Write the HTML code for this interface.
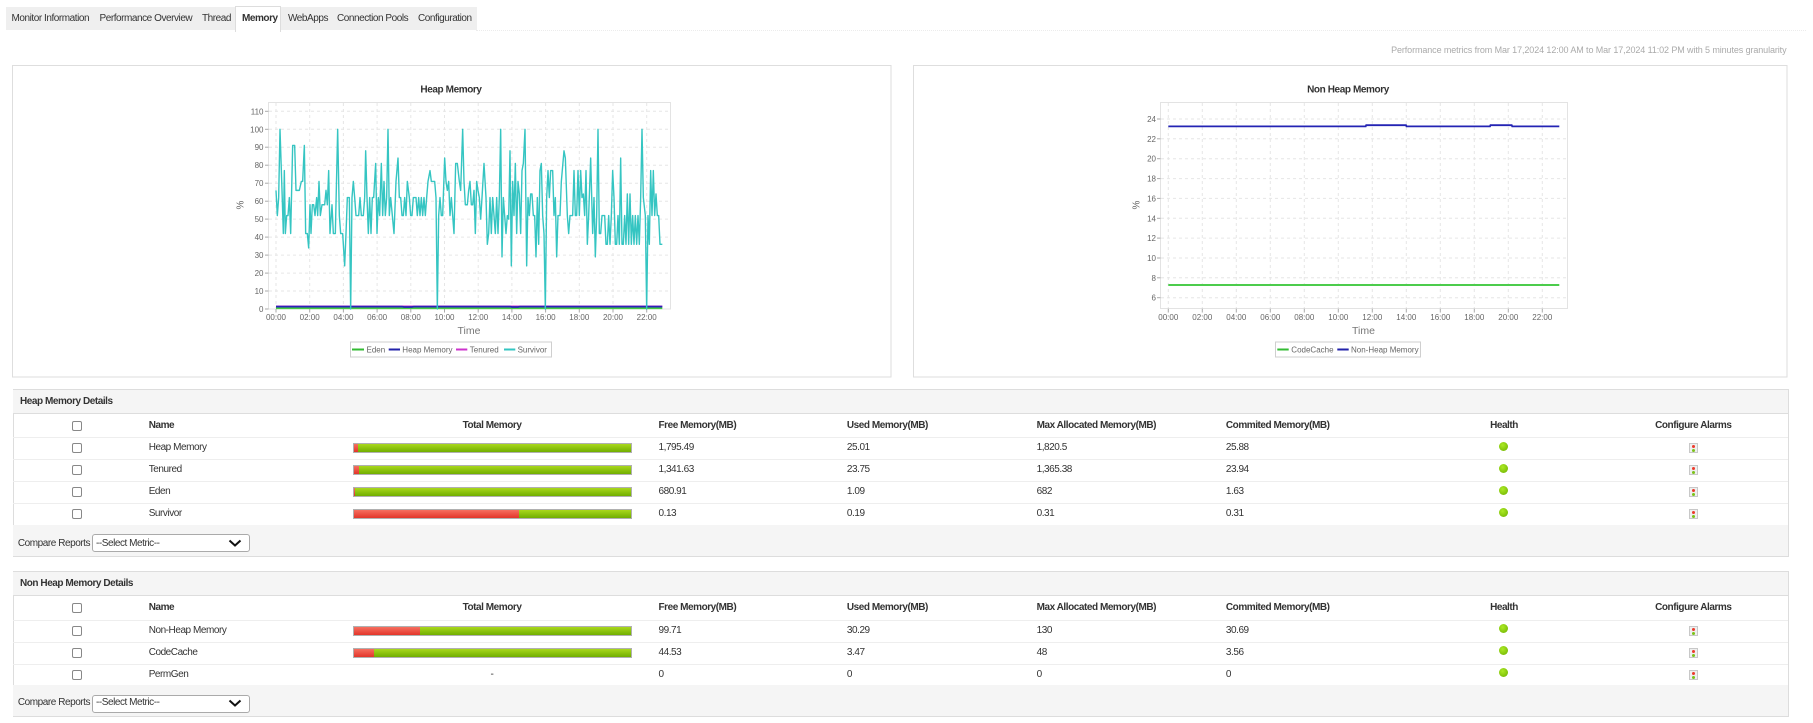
<!DOCTYPE html>
<html>
<head>
<meta charset="utf-8">
<style>
*{box-sizing:border-box;margin:0;padding:0}
html,body{width:1813px;height:723px;overflow:hidden;background:#fff;font-family:"Liberation Sans",Arial,sans-serif;position:relative}
.a{position:absolute}
.t{position:absolute;font-size:10px;letter-spacing:-0.45px;color:#333;line-height:12px;white-space:nowrap}
.b{font-weight:bold}
.c{transform:translateX(-50%)}
.cb{position:absolute;width:10px;height:10px;border:1px solid #888;border-radius:2px;background:#fff}
.bar{position:absolute;left:353px;width:279px;height:10px;border:1px solid #b0b0b0;background:linear-gradient(#a9d81c,#70ae00)}
.bar .r{height:100%;background:linear-gradient(#f56f60,#e3352a)}
.dot{position:absolute;width:9px;height:9px;border-radius:50%;background:radial-gradient(circle at 40% 35%,#acea24,#6cb000)}
.al{position:absolute;width:9px;height:10px;border:1px solid #c8c8c8;background:#efefef}
.al:before{content:"";position:absolute;left:2px;top:1px;width:3px;height:3px;border-radius:50%;background:#ec3b2c}
.al:after{content:"";position:absolute;left:2px;top:5px;width:3px;height:3px;border-radius:50%;background:#7cc21a}
.sec{position:absolute;left:12.5px;width:1776px;border:1px solid #ddd;background:#fff}
.band{position:absolute;left:13px;width:1775px;background:#f5f5f5}
.ln{position:absolute;left:13px;width:1775px;height:1px;background:#eeeeee}
.sel{position:absolute;left:91.5px;width:158px;height:18px;border:1px solid #aaa;border-radius:3px;background:#fff}
</style>
</head>
<body>

<!-- Tabs -->
<div class="a" style="left:6px;top:7px;width:470.5px;height:23px;background:#efefef"></div>
<div class="a" style="left:476px;top:30px;width:1330px;height:0;border-top:1px dotted #ececec"></div>
<div class="a" style="left:235.4px;top:6px;width:46px;height:26px;background:#fff;border:1px solid #ddd;border-bottom:none"></div>
<div class="t" style="left:11.5px;top:13px">Monitor Information</div>
<div class="t" style="left:99.5px;top:13px">Performance Overview</div>
<div class="t" style="left:202px;top:13px">Thread</div>
<div class="t b" style="left:242px;top:13px">Memory</div>
<div class="t" style="left:288px;top:13px">WebApps</div>
<div class="t" style="left:337px;top:13px">Connection Pools</div>
<div class="t" style="left:418px;top:13px">Configuration</div>

<div class="t" style="right:26.5px;top:43.5px;font-size:9px;letter-spacing:-0.1px;color:#aaa">Performance metrics from Mar 17,2024 12:00 AM to Mar 17,2024 11:02 PM with 5 minutes granularity</div>

<!-- Charts -->
<svg class="a" style="left:0;top:0" width="1813" height="390" viewBox="0 0 1813 390" font-family="Liberation Sans, Arial, sans-serif">
  <rect x="12.5" y="65.5" width="878.5" height="311.5" fill="#fff" stroke="#dedede"/>
  <rect x="913.5" y="65.5" width="873.5" height="311.5" fill="#fff" stroke="#dedede"/>

  <!-- ===== Heap chart ===== -->
  <text x="451" y="92.5" text-anchor="middle" font-size="10" font-weight="bold" fill="#333" letter-spacing="-0.4">Heap Memory</text>
  <rect x="268.5" y="102.5" width="402" height="206.5" fill="#fff" stroke="#e3e3e3"/>
  <g stroke="#e6e6e6" stroke-dasharray="3,3" stroke-width="1">
    <line x1="269" x2="670" y1="291" y2="291"/>
    <line x1="269" x2="670" y1="273.1" y2="273.1"/>
    <line x1="269" x2="670" y1="255.1" y2="255.1"/>
    <line x1="269" x2="670" y1="237.1" y2="237.1"/>
    <line x1="269" x2="670" y1="219.1" y2="219.1"/>
    <line x1="269" x2="670" y1="201.2" y2="201.2"/>
    <line x1="269" x2="670" y1="183.2" y2="183.2"/>
    <line x1="269" x2="670" y1="165.2" y2="165.2"/>
    <line x1="269" x2="670" y1="147.2" y2="147.2"/>
    <line x1="269" x2="670" y1="129.3" y2="129.3"/>
    <line x1="269" x2="670" y1="111.3" y2="111.3"/>
    <line y1="103" y2="308" x1="276" x2="276"/>
    <line y1="103" y2="308" x1="309.7" x2="309.7"/>
    <line y1="103" y2="308" x1="343.4" x2="343.4"/>
    <line y1="103" y2="308" x1="377.1" x2="377.1"/>
    <line y1="103" y2="308" x1="410.8" x2="410.8"/>
    <line y1="103" y2="308" x1="444.5" x2="444.5"/>
    <line y1="103" y2="308" x1="478.2" x2="478.2"/>
    <line y1="103" y2="308" x1="511.9" x2="511.9"/>
    <line y1="103" y2="308" x1="545.6" x2="545.6"/>
    <line y1="103" y2="308" x1="579.3" x2="579.3"/>
    <line y1="103" y2="308" x1="613" x2="613"/>
    <line y1="103" y2="308" x1="646.7" x2="646.7"/>
  </g>
  <g stroke="#aaa" stroke-width="1">
    <line x1="265" x2="268.5" y1="309" y2="309"/><line x1="265" x2="268.5" y1="291" y2="291"/>
    <line x1="265" x2="268.5" y1="273.1" y2="273.1"/><line x1="265" x2="268.5" y1="255.1" y2="255.1"/>
    <line x1="265" x2="268.5" y1="237.1" y2="237.1"/><line x1="265" x2="268.5" y1="219.1" y2="219.1"/>
    <line x1="265" x2="268.5" y1="201.2" y2="201.2"/><line x1="265" x2="268.5" y1="183.2" y2="183.2"/>
    <line x1="265" x2="268.5" y1="165.2" y2="165.2"/><line x1="265" x2="268.5" y1="147.2" y2="147.2"/>
    <line x1="265" x2="268.5" y1="129.3" y2="129.3"/><line x1="265" x2="268.5" y1="111.3" y2="111.3"/>
    <line y1="309" y2="312.5" x1="276" x2="276"/><line y1="309" y2="312.5" x1="309.7" x2="309.7"/>
    <line y1="309" y2="312.5" x1="343.4" x2="343.4"/><line y1="309" y2="312.5" x1="377.1" x2="377.1"/>
    <line y1="309" y2="312.5" x1="410.8" x2="410.8"/><line y1="309" y2="312.5" x1="444.5" x2="444.5"/>
    <line y1="309" y2="312.5" x1="478.2" x2="478.2"/><line y1="309" y2="312.5" x1="511.9" x2="511.9"/>
    <line y1="309" y2="312.5" x1="545.6" x2="545.6"/><line y1="309" y2="312.5" x1="579.3" x2="579.3"/>
    <line y1="309" y2="312.5" x1="613" x2="613"/><line y1="309" y2="312.5" x1="646.7" x2="646.7"/>
  </g>
  <g font-size="8" fill="#666" text-anchor="end">
    <text x="263.5" y="312">0</text><text x="263.5" y="294">10</text><text x="263.5" y="276.1">20</text>
    <text x="263.5" y="258.1">30</text><text x="263.5" y="240.1">40</text><text x="263.5" y="222.1">50</text>
    <text x="263.5" y="204.2">60</text><text x="263.5" y="186.2">70</text><text x="263.5" y="168.2">80</text>
    <text x="263.5" y="150.2">90</text><text x="263.5" y="132.3">100</text><text x="263.5" y="114.3">110</text>
  </g>
  <g font-size="8" fill="#666" text-anchor="middle">
    <text x="276" y="320">00:00</text><text x="309.7" y="320">02:00</text><text x="343.4" y="320">04:00</text>
    <text x="377.1" y="320">06:00</text><text x="410.8" y="320">08:00</text><text x="444.5" y="320">10:00</text>
    <text x="478.2" y="320">12:00</text><text x="511.9" y="320">14:00</text><text x="545.6" y="320">16:00</text>
    <text x="579.3" y="320">18:00</text><text x="613" y="320">20:00</text><text x="646.7" y="320">22:00</text>
  </g>
  <text x="469" y="334" text-anchor="middle" font-size="10.5" fill="#777">Time</text>
  <text transform="translate(243.5,205) rotate(-90)" text-anchor="middle" font-size="10" fill="#666">%</text>

  <line x1="276" x2="662.3" y1="308.2" y2="308.2" stroke="#44cc44" stroke-width="1.8"/>
  <line x1="276" x2="662.3" y1="306.3" y2="306.3" stroke="#cc33cc" stroke-width="1.6"/>
  <polyline fill="none" stroke="#2a22b8" stroke-width="1.7" points="276,306.6 402,306.6 404,307 412,307 414,306.6 510,306.6 512,307 518,307 520,306.6 662.3,306.6"/>
  <polyline fill="none" stroke="#35c5c2" stroke-width="1.4" stroke-linejoin="round" vector-effect="non-scaling-stroke" transform="translate(200,309) scale(0.333333,-1.7973)" points="228,66 232,52 236,62 240,100 246,66 250,42 253,77 256,42 260,52 264,52 268,62 272,42 278,91 284,91 288,66 298,66 304,71 308,71 313,91 317,42 322,42 326,34 330,58 333,42 337,58 341,58 345,52 350,62 353,52 357,71 361,52 366,58 374,58 378,66 382,58 386,77 390,42 396,58 400,42 406,42 413,100 418,52 422,42 428,42 434,24 438,42 442,62 448,62 452,0 456,62 460,71 464,62 468,52 476,52 480,62 484,52 490,52 494,62 497,88 501,62 505,42 509,62 513,42 517,62 521,62 527,81 531,42 535,62 539,52 544,81 548,52 552,71 556,52 560,62 564,100 568,52 572,62 577,52 582,42 588,71 594,84 598,62 602,62 606,52 610,52 614,62 618,52 622,71 628,62 632,52 636,52 640,62 648,62 652,52 656,62 660,52 664,62 668,52 672,62 676,52 680,62 684,71 690,77 694,71 704,71 708,62 712,0 716,52 720,62 724,52 728,52 734,84 738,71 742,66 746,71 750,52 754,62 758,52 762,42 767,81 772,81 778,71 782,66 788,100 792,71 796,58 802,58 806,66 810,71 814,58 818,58 822,66 826,42 830,71 834,66 838,62 842,50 846,62 852,81 858,62 862,36 866,42 870,62 874,42 878,62 882,52 886,42 890,62 894,42 898,62 902,100 906,29 910,62 914,52 918,42 922,52 926,50 930,88 934,24 938,71 942,52 946,81 950,42 954,71 958,64 962,42 966,77 970,81 975,100 980,24 984,62 988,52 992,64 996,64 1000,52 1004,52 1008,29 1012,62 1016,36 1020,77 1024,81 1028,52 1032,42 1036,0 1040,62 1044,77 1048,62 1052,77 1058,77 1062,52 1066,62 1070,29 1074,52 1080,52 1084,71 1092,88 1096,84 1102,52 1106,42 1110,52 1118,52 1122,77 1126,52 1130,52 1134,77 1138,52 1142,77 1146,62 1150,64 1154,52 1158,77 1162,36 1166,52 1172,84 1178,42 1182,62 1186,29 1190,52 1194,100 1198,42 1202,42 1206,52 1214,52 1218,36 1222,36 1226,52 1230,36 1234,52 1238,77 1242,62 1246,36 1250,36 1254,52 1258,36 1262,84 1266,36 1270,36 1274,52 1278,36 1282,64 1286,36 1290,64 1294,36 1298,52 1302,36 1306,52 1310,36 1314,52 1318,36 1322,62 1326,100 1330,62 1336,52 1340,0 1344,52 1348,36 1352,77 1356,52 1360,77 1364,52 1368,64 1372,52 1376,52 1380,36 1387,36"/>

  <rect x="350.5" y="342" width="201" height="15" fill="#fff" stroke="#cfcfcf"/>
  <g stroke-width="2">
    <line x1="352" x2="364" y1="349.5" y2="349.5" stroke="#33bb33"/>
    <line x1="388.7" x2="400" y1="349.5" y2="349.5" stroke="#2222aa"/>
    <line x1="456" x2="467.3" y1="349.5" y2="349.5" stroke="#cc33cc"/>
    <line x1="504" x2="515.3" y1="349.5" y2="349.5" stroke="#33c5c2"/>
  </g>
  <g font-size="8" fill="#666">
    <text x="366.5" y="352.5">Eden</text>
    <text x="402.3" y="352.5">Heap Memory</text>
    <text x="469.8" y="352.5">Tenured</text>
    <text x="517.6" y="352.5">Survivor</text>
  </g>

  <!-- ===== Non heap chart ===== -->
  <text x="1348" y="92.5" text-anchor="middle" font-size="10" font-weight="bold" fill="#333" letter-spacing="-0.4">Non Heap Memory</text>
  <rect x="1160.5" y="102.5" width="407" height="206" fill="#fff" stroke="#e3e3e3"/>
  <g stroke="#e6e6e6" stroke-dasharray="3,3" stroke-width="1">
    <line x1="1161" x2="1567" y1="297.7" y2="297.7"/>
    <line x1="1161" x2="1567" y1="277.8" y2="277.8"/>
    <line x1="1161" x2="1567" y1="258" y2="258"/>
    <line x1="1161" x2="1567" y1="238.1" y2="238.1"/>
    <line x1="1161" x2="1567" y1="218.3" y2="218.3"/>
    <line x1="1161" x2="1567" y1="198.4" y2="198.4"/>
    <line x1="1161" x2="1567" y1="178.6" y2="178.6"/>
    <line x1="1161" x2="1567" y1="158.7" y2="158.7"/>
    <line x1="1161" x2="1567" y1="138.8" y2="138.8"/>
    <line x1="1161" x2="1567" y1="119" y2="119"/>
    <line y1="103" y2="308" x1="1168.3" x2="1168.3"/>
    <line y1="103" y2="308" x1="1202.3" x2="1202.3"/>
    <line y1="103" y2="308" x1="1236.3" x2="1236.3"/>
    <line y1="103" y2="308" x1="1270.3" x2="1270.3"/>
    <line y1="103" y2="308" x1="1304.3" x2="1304.3"/>
    <line y1="103" y2="308" x1="1338.3" x2="1338.3"/>
    <line y1="103" y2="308" x1="1372.3" x2="1372.3"/>
    <line y1="103" y2="308" x1="1406.3" x2="1406.3"/>
    <line y1="103" y2="308" x1="1440.3" x2="1440.3"/>
    <line y1="103" y2="308" x1="1474.3" x2="1474.3"/>
    <line y1="103" y2="308" x1="1508.3" x2="1508.3"/>
    <line y1="103" y2="308" x1="1542.3" x2="1542.3"/>
  </g>
  <g stroke="#aaa" stroke-width="1">
    <line x1="1157" x2="1160.5" y1="297.7" y2="297.7"/><line x1="1157" x2="1160.5" y1="277.8" y2="277.8"/>
    <line x1="1157" x2="1160.5" y1="258" y2="258"/><line x1="1157" x2="1160.5" y1="238.1" y2="238.1"/>
    <line x1="1157" x2="1160.5" y1="218.3" y2="218.3"/><line x1="1157" x2="1160.5" y1="198.4" y2="198.4"/>
    <line x1="1157" x2="1160.5" y1="178.6" y2="178.6"/><line x1="1157" x2="1160.5" y1="158.7" y2="158.7"/>
    <line x1="1157" x2="1160.5" y1="138.8" y2="138.8"/><line x1="1157" x2="1160.5" y1="119" y2="119"/>
    <line y1="308.7" y2="312.5" x1="1168.3" x2="1168.3"/><line y1="308.7" y2="312.5" x1="1202.3" x2="1202.3"/>
    <line y1="308.7" y2="312.5" x1="1236.3" x2="1236.3"/><line y1="308.7" y2="312.5" x1="1270.3" x2="1270.3"/>
    <line y1="308.7" y2="312.5" x1="1304.3" x2="1304.3"/><line y1="308.7" y2="312.5" x1="1338.3" x2="1338.3"/>
    <line y1="308.7" y2="312.5" x1="1372.3" x2="1372.3"/><line y1="308.7" y2="312.5" x1="1406.3" x2="1406.3"/>
    <line y1="308.7" y2="312.5" x1="1440.3" x2="1440.3"/><line y1="308.7" y2="312.5" x1="1474.3" x2="1474.3"/>
    <line y1="308.7" y2="312.5" x1="1508.3" x2="1508.3"/><line y1="308.7" y2="312.5" x1="1542.3" x2="1542.3"/>
  </g>
  <g font-size="8" fill="#666" text-anchor="end">
    <text x="1156" y="300.7">6</text><text x="1156" y="280.8">8</text><text x="1156" y="261">10</text>
    <text x="1156" y="241.1">12</text><text x="1156" y="221.3">14</text><text x="1156" y="201.4">16</text>
    <text x="1156" y="181.6">18</text><text x="1156" y="161.7">20</text><text x="1156" y="141.8">22</text>
    <text x="1156" y="122">24</text>
  </g>
  <g font-size="8" fill="#666" text-anchor="middle">
    <text x="1168.3" y="320">00:00</text><text x="1202.3" y="320">02:00</text><text x="1236.3" y="320">04:00</text>
    <text x="1270.3" y="320">06:00</text><text x="1304.3" y="320">08:00</text><text x="1338.3" y="320">10:00</text>
    <text x="1372.3" y="320">12:00</text><text x="1406.3" y="320">14:00</text><text x="1440.3" y="320">16:00</text>
    <text x="1474.3" y="320">18:00</text><text x="1508.3" y="320">20:00</text><text x="1542.3" y="320">22:00</text>
  </g>
  <text x="1363.5" y="334" text-anchor="middle" font-size="10.5" fill="#777">Time</text>
  <text transform="translate(1139.5,205) rotate(-90)" text-anchor="middle" font-size="10" fill="#666">%</text>

  <line x1="1168.3" x2="1559.3" y1="285" y2="285" stroke="#4ccc4c" stroke-width="2"/>
  <polyline fill="none" stroke="#2424b4" stroke-width="1.8" points="1168.3,126.4 1365.7,126.4 1366.2,125.2 1406,125.2 1406.5,126.4 1490,126.4 1490.5,125.2 1511.7,125.2 1512.2,126.4 1559.3,126.4"/>

  <rect x="1275.5" y="342" width="145" height="15" fill="#fff" stroke="#cfcfcf"/>
  <line x1="1277.3" x2="1288.7" y1="349.5" y2="349.5" stroke="#33bb33" stroke-width="2"/>
  <line x1="1337.3" x2="1348.7" y1="349.5" y2="349.5" stroke="#2222aa" stroke-width="2"/>
  <g font-size="8" fill="#666">
    <text x="1291.3" y="352.5">CodeCache</text>
    <text x="1351" y="352.5">Non-Heap Memory</text>
  </g>
</svg>

<!-- ===== Heap Memory Details ===== -->
<div class="sec" style="top:389px;height:168px"></div>
<div class="band" style="top:390px;height:24px;border-bottom:1px solid #ddd"></div>
<div class="t b" style="left:20px;top:396px">Heap Memory Details</div>

<div class="cb" style="left:71.8px;top:420.5px"></div>
<div class="t b" style="left:148.7px;top:419.7px">Name</div>
<div class="t b c" style="left:492px;top:419.7px">Total Memory</div>
<div class="t b" style="left:658.5px;top:419.7px">Free Memory(MB)</div>
<div class="t b" style="left:846.9px;top:419.7px">Used Memory(MB)</div>
<div class="t b" style="left:1036.6px;top:419.7px">Max Allocated Memory(MB)</div>
<div class="t b" style="left:1225.9px;top:419.7px">Commited Memory(MB)</div>
<div class="t b c" style="left:1504px;top:419.7px">Health</div>
<div class="t b c" style="left:1693.3px;top:419.7px">Configure Alarms</div>

<div class="ln" style="top:437px"></div>
<div class="ln" style="top:459px"></div>
<div class="ln" style="top:481px"></div>
<div class="ln" style="top:503px"></div>

<div class="cb" style="left:71.8px;top:443.3px"></div>
<div class="t" style="left:148.7px;top:442.3px">Heap Memory</div>
<div class="bar" style="top:443px"><div class="r" style="width:4px"></div></div>
<div class="t" style="left:658.5px;top:442.3px">1,795.49</div>
<div class="t" style="left:846.9px;top:442.3px">25.01</div>
<div class="t" style="left:1036.6px;top:442.3px">1,820.5</div>
<div class="t" style="left:1225.9px;top:442.3px">25.88</div>
<div class="dot" style="left:1499px;top:441.8px"></div>
<div class="al" style="left:1689px;top:443.3px"></div>

<div class="cb" style="left:71.8px;top:465.3px"></div>
<div class="t" style="left:148.7px;top:464.3px">Tenured</div>
<div class="bar" style="top:465px"><div class="r" style="width:5px"></div></div>
<div class="t" style="left:658.5px;top:464.3px">1,341.63</div>
<div class="t" style="left:846.9px;top:464.3px">23.75</div>
<div class="t" style="left:1036.6px;top:464.3px">1,365.38</div>
<div class="t" style="left:1225.9px;top:464.3px">23.94</div>
<div class="dot" style="left:1499px;top:463.8px"></div>
<div class="al" style="left:1689px;top:465.3px"></div>

<div class="cb" style="left:71.8px;top:487.3px"></div>
<div class="t" style="left:148.7px;top:486.3px">Eden</div>
<div class="bar" style="top:487px"><div class="r" style="width:0.6px"></div></div>
<div class="t" style="left:658.5px;top:486.3px">680.91</div>
<div class="t" style="left:846.9px;top:486.3px">1.09</div>
<div class="t" style="left:1036.6px;top:486.3px">682</div>
<div class="t" style="left:1225.9px;top:486.3px">1.63</div>
<div class="dot" style="left:1499px;top:485.8px"></div>
<div class="al" style="left:1689px;top:487.3px"></div>

<div class="cb" style="left:71.8px;top:509.3px"></div>
<div class="t" style="left:148.7px;top:508.3px">Survivor</div>
<div class="bar" style="top:509px"><div class="r" style="width:165px"></div></div>
<div class="t" style="left:658.5px;top:508.3px">0.13</div>
<div class="t" style="left:846.9px;top:508.3px">0.19</div>
<div class="t" style="left:1036.6px;top:508.3px">0.31</div>
<div class="t" style="left:1225.9px;top:508.3px">0.31</div>
<div class="dot" style="left:1499px;top:507.8px"></div>
<div class="al" style="left:1689px;top:509.3px"></div>

<div class="band" style="top:525.3px;height:31px"></div>
<div class="t" style="left:17.9px;top:538px">Compare Reports</div>
<div class="sel" style="top:534.3px"></div>
<div class="t" style="left:96px;top:537.5px">--Select Metric--</div>
<svg class="a" style="left:228px;top:539px" width="14" height="9"><polyline points="1.5,1.5 7,6.5 12.5,1.5" fill="none" stroke="#111" stroke-width="2"/></svg>

<!-- ===== Non Heap Memory Details ===== -->
<div class="sec" style="top:571px;height:146px"></div>
<div class="band" style="top:572px;height:24px;border-bottom:1px solid #ddd"></div>
<div class="t b" style="left:20px;top:578px">Non Heap Memory Details</div>

<div class="cb" style="left:71.8px;top:602.5px"></div>
<div class="t b" style="left:148.7px;top:601.7px">Name</div>
<div class="t b c" style="left:492px;top:601.7px">Total Memory</div>
<div class="t b" style="left:658.5px;top:601.7px">Free Memory(MB)</div>
<div class="t b" style="left:846.9px;top:601.7px">Used Memory(MB)</div>
<div class="t b" style="left:1036.6px;top:601.7px">Max Allocated Memory(MB)</div>
<div class="t b" style="left:1225.9px;top:601.7px">Commited Memory(MB)</div>
<div class="t b c" style="left:1504px;top:601.7px">Health</div>
<div class="t b c" style="left:1693.3px;top:601.7px">Configure Alarms</div>

<div class="ln" style="top:619.5px"></div>
<div class="ln" style="top:641.5px"></div>
<div class="ln" style="top:663.5px"></div>

<div class="cb" style="left:71.8px;top:625.7px"></div>
<div class="t" style="left:148.7px;top:624.7px">Non-Heap Memory</div>
<div class="bar" style="top:625.5px"><div class="r" style="width:66px"></div></div>
<div class="t" style="left:658.5px;top:624.7px">99.71</div>
<div class="t" style="left:846.9px;top:624.7px">30.29</div>
<div class="t" style="left:1036.6px;top:624.7px">130</div>
<div class="t" style="left:1225.9px;top:624.7px">30.69</div>
<div class="dot" style="left:1499px;top:624.2px"></div>
<div class="al" style="left:1689px;top:625.7px"></div>

<div class="cb" style="left:71.8px;top:647.7px"></div>
<div class="t" style="left:148.7px;top:646.7px">CodeCache</div>
<div class="bar" style="top:647.5px"><div class="r" style="width:20px"></div></div>
<div class="t" style="left:658.5px;top:646.7px">44.53</div>
<div class="t" style="left:846.9px;top:646.7px">3.47</div>
<div class="t" style="left:1036.6px;top:646.7px">48</div>
<div class="t" style="left:1225.9px;top:646.7px">3.56</div>
<div class="dot" style="left:1499px;top:646.2px"></div>
<div class="al" style="left:1689px;top:647.7px"></div>

<div class="cb" style="left:71.8px;top:669.5px"></div>
<div class="t" style="left:148.7px;top:668.5px">PermGen</div>
<div class="t c" style="left:492px;top:668.5px">-</div>
<div class="t" style="left:658.5px;top:668.5px">0</div>
<div class="t" style="left:846.9px;top:668.5px">0</div>
<div class="t" style="left:1036.6px;top:668.5px">0</div>
<div class="t" style="left:1225.9px;top:668.5px">0</div>
<div class="dot" style="left:1499px;top:668px"></div>
<div class="al" style="left:1689px;top:669.5px"></div>

<div class="band" style="top:685px;height:31px"></div>
<div class="t" style="left:17.9px;top:697px">Compare Reports</div>
<div class="sel" style="top:694.5px"></div>
<div class="t" style="left:96px;top:697px">--Select Metric--</div>
<svg class="a" style="left:228px;top:699px" width="14" height="9"><polyline points="1.5,1.5 7,6.5 12.5,1.5" fill="none" stroke="#111" stroke-width="2"/></svg>

</body>
</html>
